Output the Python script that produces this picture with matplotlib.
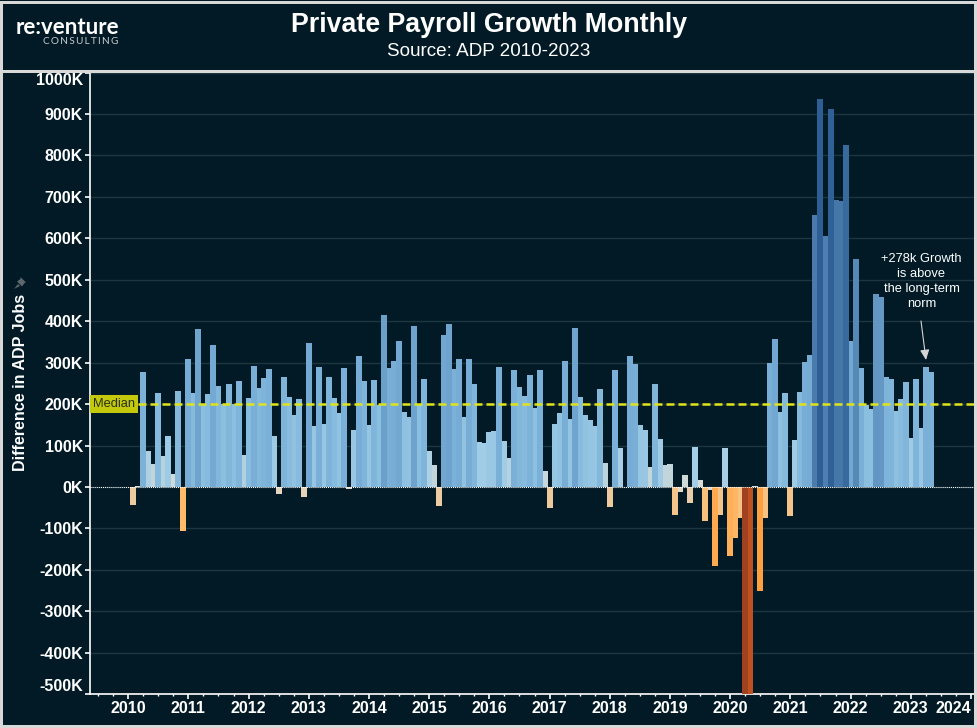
import numpy as np
import matplotlib
matplotlib.use("Agg")
import matplotlib.pyplot as plt
from matplotlib.colors import LinearSegmentedColormap
from matplotlib.patches import Rectangle, Polygon

plt.rcParams['font.family'] = ['Liberation Sans', 'DejaVu Sans']

# monthly change in ADP jobs, thousands, from Feb 2010
values = [-43, 2, 277, 87, 55, 227, 75, 123, 31, 232, -106, 309, 227, 381, 200, 224,
          343, 244, 200, 249, 200, 256, 77, 215, 292, 239, 263, 285, 123, -17, 265, 217,
          174, 212, -24, 347, 147, 290, 152, 265, 215, 179, 287, -5, 138, 316, 256, 150,
          258, 198, 414, 287, 304, 352, 181, 169, 388, 200, 261, 87, 53, -46, 367, 393,
          285, 309, 169, 309, 249, 109, 106, 133, 135, 290, 111, 70, 282, 241, 220, 270,
          191, 282, 39, -51, 152, 179, 304, 164, 384, 217, 174, 162, 147, 237, 58, -48,
          282, 94, 1, 316, 297, 150, 138, 48, 249, 116, 53, 55, -68, -12, 29, -39,
          96, 17, -82, -7, -191, -68, 94, -167, -123, -75, -640, -520, 2, -251, -75, 299,
          357, 181, 227, -70, 113, 229, 302, 319, 656, 936, 606, 912, 693, 690, 825, 352,
          550, 287, 198, 188, 466, 459, 265, 261, 183, 212, 253, 118, 261, 142, 290, 278]
median = 200
year_ticks = list(range(2010, 2025))
y_ticks = list(range(-500, 1001, 100))

W, H = 978, 728
BG = '#011a25'


def fx(px):
    return px / W


def fy(px):
    return 1 - px / H


fig = plt.figure(figsize=(W / 100, H / 100), dpi=100, facecolor=BG)
ax = fig.add_axes([fx(90), fy(694.2), fx(974 - 90), (694.2 - 72.6) / H], facecolor=BG)

# diverging colours, stops go from big drop to big gain
stops = [(-640, '#a04220'), (-500, '#c4541f'), (-251, '#ffa03f'), (-100, '#ffbb6b'),
         (-45, '#eccba3'), (0, '#dedfd8'), (50, '#c4d6da'), (100, '#a3cde6'),
         (200, '#8abfdf'), (300, '#78aed6'), (400, '#6da2cd'), (600, '#4f80b0'), (940, '#2d5f95')]
lo, hi = stops[0][0], stops[-1][0]
cmap = LinearSegmentedColormap.from_list('payroll', [((v - lo) / (hi - lo), c) for v, c in stops])

# months since Jan 2010
pos = np.arange(len(values)) + 1
for p, v in zip(pos, values):
    # taller bars sit on top of their neighbours
    ax.bar(p, v, width=1.2, color=cmap((v - lo) / (hi - lo)), linewidth=0, zorder=2 + abs(v) / 1000)

ax.set_xlim(-7.61, 168.6)
ax.set_ylim(-500, 1000)

ax.set_yticks(y_ticks)
ax.set_yticklabels([f'{v}K' for v in y_ticks])
ax.set_xticks([(y - 2010) * 12 for y in year_ticks])
ax.set_xticklabels([str(y) for y in year_ticks])
ax.set_xticks(np.arange(-6, 168, 3), minor=True)
ax.tick_params(axis='both', which='major', colors='white', length=3.6, width=1.2, labelsize=11.5, pad=1.5)
ax.tick_params(axis='x', which='minor', colors='white', length=1.5, width=1)
for lab in ax.get_xticklabels() + ax.get_yticklabels():
    lab.set_fontweight('bold')
# end labels are pulled inside the axis range
ax.get_yticklabels()[0].set_va('bottom')
ax.get_yticklabels()[-1].set_va('top')
ax.get_xticklabels()[-1].set_ha('right')

ax.grid(axis='y', color='#1c3640', linewidth=1, zorder=0)
ax.set_axisbelow(True)
for s in ['top', 'right']:
    ax.spines[s].set_visible(False)
for s in ['left', 'bottom']:
    ax.spines[s].set_color('white')
    ax.spines[s].set_linewidth(1.2)

ax.axhline(0, color='white', linewidth=0.75, linestyle=(0, (1, 1)), zorder=5)
ax.axhline(median, color='#e0e31a', linewidth=1.8, linestyle=(0, (3.2, 1.6)), zorder=6)
ax.text(-7.0, median, 'Median', color='#26321c', fontsize=9.3, va='center', ha='left', zorder=7,
        bbox=dict(facecolor='#c4c90c', edgecolor='none', pad=2))

# note and its arrow
fig.text(fx(921.5), fy(281.5), '+278k Growth\nis above\nthe long-term\nnorm', color='white', fontsize=9.3,
         ha='center', va='center', linespacing=1.3, zorder=10)
ax.annotate('', xy=(fx(926), fy(360)), xytext=(fx(921), fy(321)), xycoords='figure fraction',
            textcoords='figure fraction', zorder=8,
            arrowprops=dict(arrowstyle='-|>,head_width=0.25,head_length=0.55', mutation_scale=11,
                            color='#d4d4d4', linewidth=0.8, shrinkA=0, shrinkB=0))

# y title and the small pin above it
fig.text(fx(21), fy(382.5), 'Difference in ADP Jobs', color='white', fontsize=11.6, fontweight='bold',
         rotation=90, ha='center', va='center')
pin_head = [(20.5, 277), (26, 282.5), (24.5, 283), (22, 286.5), (17, 281.5), (20.5, 279)]
pin_needle = [(18, 284), (20, 286), (14, 289)]
for pts in (pin_head, pin_needle):
    fig.add_artist(Polygon([(fx(a), fy(b)) for a, b in pts], closed=True, transform=fig.transFigure,
                           facecolor='#5e676c', edgecolor='none'))

# header
fig.text(fx(489), fy(25), 'Private Payroll Growth Monthly', color='white', fontsize=19.3,
         fontweight='bold', ha='center', va='center')
fig.text(fx(489), fy(52), 'Source: ADP 2010-2023', color='white', fontsize=13.6, ha='center', va='center')
fig.text(fx(67.5), fy(27), 're:venture', color='white', fontsize=16, family='Lato', fontweight='bold',
         ha='center', va='center')
fig.text(fx(118), fy(41), '\u2009'.join('CONSULTING'), color='#c8cdd0', fontsize=7.2,
         family=['Lato', 'DejaVu Sans'], ha='right', va='center')

# outer frame and header rule
fig.add_artist(Rectangle((fx(1.5), fy(725.5)), fx(974), 724 / H, transform=fig.transFigure,
                         fill=False, edgecolor='#d8d8d8', linewidth=2.16))
fig.add_artist(Rectangle((fx(3), fy(73)), fx(971), 3 / H, transform=fig.transFigure,
                         facecolor='#d8d8d8', edgecolor='none'))

fig.savefig('out.png', dpi=100, facecolor=BG)
